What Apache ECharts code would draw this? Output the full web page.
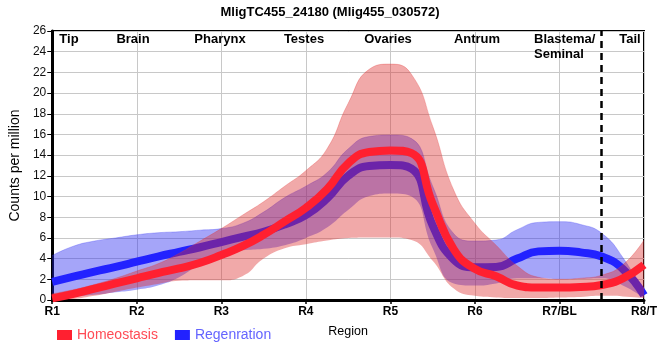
<!DOCTYPE html>
<html>
<head>
<meta charset="utf-8">
<script src="https://cdn.jsdelivr.net/npm/echarts@6/dist/echarts.min.js"></script>
<style>html,body{margin:0;padding:0;background:#fff}#c{width:660px;height:360px}</style>
</head>
<body>
<div id="c"></div>
<script>
// Sample positions along the body axis (1 = R1 ... 8 = R8/T)
var xs = [1,1.25,1.5,1.75,2,2.25,2.5,2.75,3,3.25,3.5,3.75,4,4.25,4.5,4.75,5,5.25,5.5,5.75,6,6.25,6.5,6.75,7,7.25,7.5,7.75,8];
var tickLabels = ['R1','R2','R3','R4','R5','R6','R7/BL','R8/T'];
var regionNames = ['Tip','Brain','Pharynx','Testes','Ovaries','Antrum','Blastema/\nSeminal','Tail'];

var homeoMean = [0.15,0.6,1.1,1.6,2.1,2.6,3.05,3.6,4.35,5.2,6.3,7.6,8.9,10.7,13.2,14.3,14.45,14.2,9.3,4.9,3.0,2.3,1.4,1.2,1.2,1.25,1.45,2.1,3.4];
var homeoLow  = [0,0.1,0.4,0.8,1.2,1.55,1.85,1.9,1.9,2.3,4.0,5.0,5.4,5.75,6.0,6.05,6.05,5.8,3.8,1.1,0.4,0.25,0.2,0.2,0.25,0.3,0.4,0.35,0.2];
var homeoHigh = [0.6,1.0,1.5,2.1,2.8,3.5,4.5,5.7,6.9,8.2,9.5,11.0,12.5,14.6,19.0,22.3,22.8,21.8,16.8,10.6,7.4,5.3,3.3,2.2,2.0,2.1,2.4,3.4,5.8];

var regenMean = [1.75,2.25,2.75,3.2,3.7,4.2,4.65,5.1,5.6,6.1,6.6,7.3,8.2,9.8,12.0,12.95,13.05,12.7,7.2,3.9,3.16,3.2,4.0,4.7,4.77,4.6,4.2,3.0,0.45];
var regenLow  = [0.3,0.35,0.5,0.75,1.0,1.4,2.2,3.5,4.5,4.8,4.95,5.3,6.0,7.0,8.7,10.05,10.3,10.0,5.0,1.6,1.4,1.6,2.1,2.1,2.0,2.05,2.1,1.4,0.2];
var regenHigh = [4.3,5.2,5.7,6.0,6.3,6.5,6.6,6.75,6.9,7.4,8.5,9.9,11.0,12.3,14.6,15.8,15.95,15.6,11.0,6.4,5.7,5.8,6.8,7.5,7.57,7.3,6.45,4.1,0.6];

var dividerX = '7.5';

function diffs(hi, lo){ return hi.map(function(v,i){ return +(v-lo[i]).toFixed(3); }); }
function isMajor(i){ return xs[i] % 1 === 0; }

var chart = echarts.init(document.getElementById('c'), null, {renderer:'canvas'});

var regionCenters = [69,133,220,304,388,477,534,630];
var graphics = regionNames.map(function(n,i){
  var multi = n.indexOf('\n') >= 0;
  return {
    type:'text',
    x: regionCenters[i], y: multi ? 32 : 39.5, z: 100,
    style:{ text:n, fill:'#000', font:'bold 13px "Liberation Sans", Arial, sans-serif',
      textAlign: multi ? 'left' : 'center', textVerticalAlign: multi ? 'top' : 'middle', lineHeight: 15 }
  };
});

var option = {
  animation:false,
  backgroundColor:'#fff',
  textStyle:{fontFamily:'"Liberation Sans", Arial, sans-serif'},
  title:{ text:'MligTC455_24180 (Mlig455_030572)', left:'center', top:1,
    textStyle:{fontSize:13, fontWeight:'bold', color:'#000'} },
  legend:{
    left:52, top:323, itemWidth:15, itemHeight:10, itemGap:17, selectedMode:false,
    icon:'rect',
    data:[
      {name:'Homeostasis', textStyle:{color:'#ff4b55', fontSize:14}},
      {name:'Regenration', textStyle:{color:'#6464ff', fontSize:14}}
    ]
  },
  grid:{ left:50, right:10, top:31, bottom:60, show:true, borderColor:'#000', borderWidth:2, backgroundColor:'transparent' },
  xAxis:{
    type:'category', boundaryGap:false, data: xs.map(String),
    name:'Region', nameLocation:'middle', nameGap:25,
    nameTextStyle:{color:'#000', fontSize:12.5},
    axisLine:{show:true, onZero:false, lineStyle:{color:'#000', width:3}},
    axisTick:{show:true, length:4, interval:function(i){return isMajor(i);}, lineStyle:{color:'#000', width:1.5}},
    axisLabel:{ margin:6, fontSize:12, fontWeight:'bold', color:'#000',
      interval:function(i){return isMajor(i);},
      formatter:function(v){ var n=parseFloat(v); return n%1===0 ? (tickLabels[n-1]||'') : ''; } },
    splitLine:{show:true, interval:function(i){return isMajor(i);}, lineStyle:{color:'#c8c8c8', width:1}}
  },
  yAxis:{
    type:'value', min:0, max:26, interval:2,
    name:'Counts per million', nameLocation:'middle', nameGap:23,
    nameTextStyle:{color:'#000', fontSize:14},
    axisLine:{show:true, lineStyle:{color:'#000', width:3}},
    axisTick:{show:true, length:5, lineStyle:{color:'#000', width:1}},
    axisLabel:{ margin:6, fontSize:12, color:'#111' },
    splitLine:{show:true, lineStyle:{color:'#c8c8c8', width:1}}
  },
  graphic: graphics,
  series:[
    { name:'regenLow', type:'line', stack:'regen', data:regenLow, smooth:true, showSymbol:false, symbol:'none',
      lineStyle:{opacity:0}, silent:true, z:1 },
    { name:'regenBand', type:'line', stack:'regen', data:diffs(regenHigh, regenLow), smooth:true, showSymbol:false, symbol:'none',
      lineStyle:{width:1, color:'rgba(60,60,245,0.3)'}, areaStyle:{color:'rgba(40,40,240,0.42)', opacity:1}, silent:true, z:1 },
    { name:'Regenration', type:'line', data:regenMean, smooth:true, showSymbol:false, symbol:'none',
      itemStyle:{color:'#2222ff'}, lineStyle:{width:8, color:'#2222ff'}, z:2 },
    { name:'homeoLow', type:'line', stack:'homeo', data:homeoLow, smooth:true, showSymbol:false, symbol:'none',
      lineStyle:{opacity:0}, silent:true, z:3 },
    { name:'homeoBand', type:'line', stack:'homeo', data:diffs(homeoHigh, homeoLow), smooth:true, showSymbol:false, symbol:'none',
      lineStyle:{width:1, color:'rgba(230,60,60,0.3)'}, areaStyle:{color:'rgba(220,40,40,0.4)', opacity:1}, silent:true, z:3 },
    { name:'Homeostasis', type:'line', data:homeoMean, smooth:true, showSymbol:false, symbol:'none',
      itemStyle:{color:'#ff2030'}, lineStyle:{width:8, color:'#ff2030'}, z:4,
      markLine:{ silent:true, symbol:'none', label:{show:false},
        lineStyle:{color:'#000', width:2.5, type:[7,5]},
        data:[{xAxis:dividerX}] } }
  ]
};
chart.setOption(option);
</script>
</body>
</html>
